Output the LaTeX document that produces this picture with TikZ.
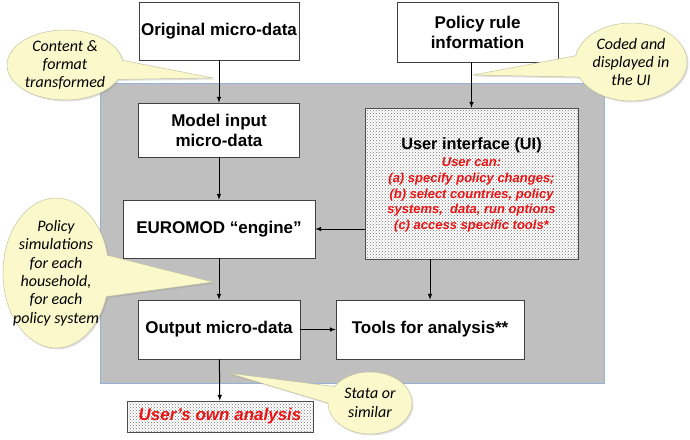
\documentclass[tikz,border=0pt]{standalone}
\usepackage{fontspec}
\setmainfont{Liberation Sans}
\newfontfamily\notefont{Carlito}
\usetikzlibrary{shapes.callouts,patterns,shadows}
\definecolor{framegray}{RGB}{191,191,191}
\definecolor{frameblue}{RGB}{150,178,215}
\definecolor{noteyellow}{RGB}{251,249,203}
\definecolor{noteedge}{RGB}{195,195,160}
\definecolor{alertred}{RGB}{235,20,20}
\begin{document}
\begin{tikzpicture}[x=1pt, y=-1pt,
    databox/.style={draw=black!75, fill=white, line width=0.6pt, align=center,
        font=\fontsize{17}{20}\selectfont\bfseries, inner sep=0pt},
    patbox/.style={draw=black!70, line width=0.6pt, preaction={fill=white},
        pattern=crosshatch dots, pattern color=black!55, inner sep=0pt},
    remark/.style={ellipse callout, callout pointer arc=32, fill=noteyellow,
        draw=noteedge, line width=0.5pt, inner sep=-9pt, align=center,
        font=\notefont\itshape\fontsize{16}{18.3}\selectfont,
        drop shadow={shadow xshift=1.5pt, shadow yshift=-1.5pt, opacity=0.25}},
    flow/.style={-latex, line width=1pt}]
                \useasboundingbox (0, 0) rectangle (690, 439);
                % Grey model frame
                \node [draw=frameblue, fill=framegray, line width=0.6pt,
                    minimum width=504, minimum height=300] (frame) at (352, 233) {};
                % Inputs
                \node [databox, minimum width=160, minimum height=58] (orig) at (219, 31) {Original micro-data};
                \node [databox, minimum width=161, minimum height=60] (policy) at (477.5, 32) {Policy rule\\information};
                % Model
                \node [databox, minimum width=161, minimum height=54] (model) at (219, 130) {Model input\\micro-data};
                \node [databox, minimum width=192, minimum height=58] (engine) at (219, 229) {EUROMOD “engine”};
                \node [patbox, minimum width=213, minimum height=151] (ui) at (471.5, 183.5) {};
                \node [font=\fontsize{16.3}{19}\selectfont\bfseries] (uititle) at (471.5, 145) {User interface (UI)};
                \node [align=center, text=alertred, font=\fontsize{13}{15.7}\selectfont\bfseries\itshape] (uinote) at (471.5, 195) {User can:\\(a) specify policy changes;\\(b) select countries, policy\\systems,~ data, run options\\(c) access specific tools*};
                % Outputs
                \node [databox, minimum width=162, minimum height=59] (output) at (219, 329.5) {Output micro-data};
                \node [databox, minimum width=188, minimum height=59] (tools) at (430, 329.5) {Tools for analysis**};
                \node [patbox, minimum width=186, minimum height=31, text=alertred,
                    font=\fontsize{17}{20}\selectfont\bfseries\itshape] (own) at (220, 416.5) {User’s own analysis};
                % Remarks
                \coordinate (tipa) at (213, 78);
                \coordinate (tipb) at (473, 75);
                \coordinate (tipc) at (213, 282);
                \coordinate (tipd) at (228, 373);
                \node [remark, minimum width=116, minimum height=70, callout absolute pointer=(tipa)] (notea) at (65, 65) {Content \&\\format\\transformed};
                \node [remark, minimum width=112, minimum height=78, callout absolute pointer=(tipb)] (noteb) at (631, 62) {Coded and\\displayed in\\the UI};
                \node [remark, minimum width=106, minimum height=150, callout absolute pointer=(tipc)] (notec) at (56, 273) {Policy\\simulations\\for each\\household,\\for each\\policy system};
                \node [remark, minimum width=84, minimum height=62, callout absolute pointer=(tipd)] (noted) at (370, 403) {Stata or\\similar};
                % Flows
                \draw [flow] (orig) -- (model);
                \draw [flow] (ui.north |- policy.south) -- (ui.north);
                \draw [flow] (model) -- (engine);
                \draw [flow] (ui.west |- engine.east) -- (engine.east);
                \draw [flow] (engine) -- (output);
                \draw [flow] (tools.north |- ui.south) -- (tools.north);
                \draw [flow] (output) -- (tools);
                \draw [flow] (output) -- (own);
            \end{tikzpicture}
\end{document}
